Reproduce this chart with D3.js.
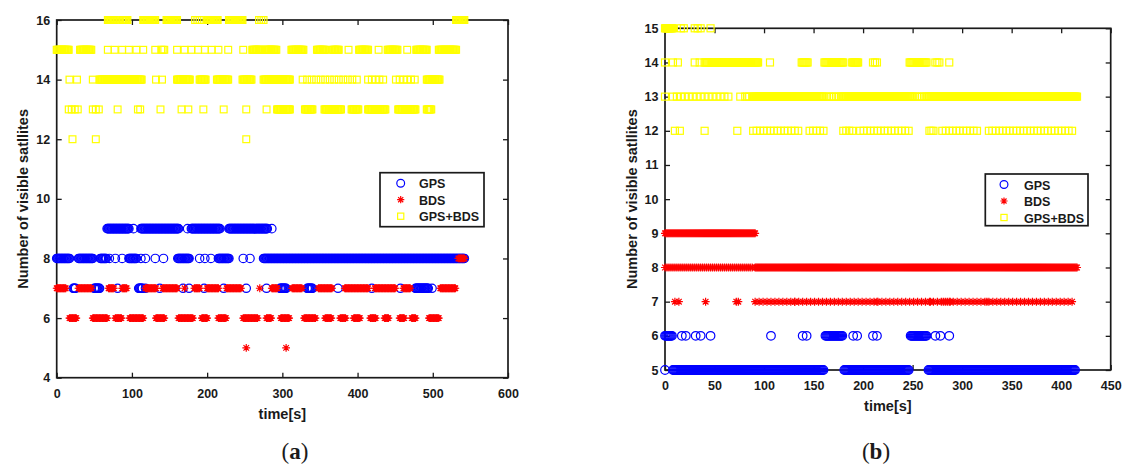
<!DOCTYPE html>
<html>
<head>
<meta charset="utf-8">
<script src="https://cdn.jsdelivr.net/npm/d3@7"></script>
<style>
body { margin: 0; background: #fff; }
svg text { font-family: "Liberation Sans", Arial, sans-serif; font-weight: bold; fill: #1a1a1a; }
</style>
</head>
<body>
<svg id="chart" width="1126" height="466"></svg>
<script>
// Each run: [t] one epoch, [t0, t1] every second, [t0, t1, step] sparser epochs
// ---- panel (a) ----
const aGps = [
    { v: 9, runs: [[67, 96], [102], [112, 162], [174], [179, 217], [229, 280], [286]] },
    { v: 8, runs: [[0, 17], [29, 48], [58, 66], [70], [78], [87], [96, 106], [112], [118], [131], [142],
                   [161, 176], [190], [197], [205], [215, 229], [248], [257], [275, 542]] },
    { v: 7, runs: [[22, 25], [50, 57], [81], [109, 114], [118], [137], [168], [176], [196], [222], [252],
                   [279], [297, 305], [333, 340], [374], [419], [457], [477, 494], [499]] }
];
const aBds = [
    { v: 8, runs: [[534, 542]] },
    { v: 7, runs: [[0, 12], [29, 46], [69, 76], [87, 93], [118, 132], [141, 160], [170], [183, 190], [200, 215],
                   [226, 245], [270], [286, 293], [313, 326], [348, 366], [383, 414], [423, 450], [461, 470], [510, 530]] },
    { v: 6, runs: [[17, 26], [48, 67], [78, 86], [97, 115], [132, 143], [162, 181], [193, 200], [215, 225],
                   [248, 267], [279, 285], [298, 309], [329, 344], [357, 365], [377, 384], [395, 403], [417, 424],
                   [436, 441], [456, 462], [472, 477], [495, 508]] },
    { v: 5, runs: [[252], [305]] }
];
const aSum = [
    { v: 16, runs: [[68, 77], [87, 94], [115, 131], [146, 160], [184, 190, 3], [200, 214], [229, 247], [269, 275, 3], [531, 542]] },
    { v: 15, runs: [[0, 16], [31, 46], [68], [77], [87], [96], [106], [115], [131], [139, 144, 2], [160], [170], [179],
                    [188], [197], [206], [215], [228], [248], [260, 272], [277, 292], [312, 328], [346, 357], [367, 375],
                    [388], [402, 414], [428], [440, 453], [466], [478, 492], [508, 531]] },
    { v: 14, runs: [[17], [27], [48], [57, 113], [132], [140], [160, 177], [190, 198], [213, 228], [247, 259],
                    [275, 310], [327, 403, 6], [414, 438, 5], [451, 479, 5], [492, 509]] },
    { v: 13, runs: [[16, 29, 4], [48, 58, 4], [81], [108, 113, 3], [138], [166], [175], [195], [222], [252], [279],
                    [293, 310], [330, 340], [356, 378], [392, 401], [414, 437], [454, 477], [492, 498]] },
    { v: 12, runs: [[21], [52], [252]] }
];
const aXTicks = [0, 100, 200, 300, 400, 500, 600];
const aYTicks = [4, 6, 8, 10, 12, 14, 16];

// ---- panel (b) ----
const bGps = [
    { v: 6, runs: [[0, 7], [17], [21], [31], [36], [46], [107], [139], [143], [162, 179], [190], [194], [210], [214],
                   [248, 264], [273], [278], [287]] },
    { v: 5, runs: [[0], [8, 160], [181, 246], [266, 414]] }
];
const bBds = [
    { v: 9, runs: [[0, 91]] },
    { v: 8, runs: [[0, 89, 2], [91, 416]] },
    { v: 7, runs: [[10], [14], [41], [72], [74], [91, 412, 4], [131], [214], [268], [281], [285], [288], [325]] }
];
const bSum = [
    { v: 15, runs: [[0, 8], [16, 19, 3], [30, 36, 3], [46]] },
    { v: 14, runs: [[0], [8], [13], [30], [35], [40, 94], [106], [138, 144], [161, 180], [189, 195], [210, 214, 2],
                    [247, 264], [273, 278, 2], [287]] },
    { v: 13, runs: [[0], [8, 64, 4], [76], [81, 86, 2], [89, 160], [163, 177, 2.5], [178, 250], [252, 262, 2.5], [264, 416]] },
    { v: 12, runs: [[10], [15], [40], [73], [89, 137, 3.5], [146, 160, 3.5], [180, 189, 3], [197, 247, 3.5],
                    [267, 271, 2], [280, 318, 3.5], [327, 412, 3.5]] }
];
const bXTicks = [0, 50, 100, 150, 200, 250, 300, 350, 400, 450];
const bYTicks = [5, 6, 7, 8, 9, 10, 11, 12, 13, 14, 15];

const legendNames = ["GPS", "BDS", "GPS+BDS"];

const panels = [
    { gps: aGps, bds: aBds, sum: aSum, xTicks: aXTicks, yTicks: aYTicks, xDomain: [0, 600], yDomain: [4, 16],
      left: 56.7, right: 508, top: 20, bottom: 377.7, xPad: 11.4, titleY: 419, yLabelX: 28,
      size: 3.4, legend: { x: 380, y: 172.7, w: 104, h: 54, mx: 400.7, tx: 419 }, caption: "a", capX: 295 },
    { gps: bGps, bds: bBds, sum: bSum, xTicks: bXTicks, yTicks: bYTicks, xDomain: [0, 450], yDomain: [5, 15],
      left: 665, right: 1110.7, top: 28.3, bottom: 370, xPad: 11.1, titleY: 411, yLabelX: 637,
      size: 3.5, legend: { x: 985.3, y: 174, w: 102.7, h: 51.7, mx: 1004, tx: 1024 }, caption: "b", capX: 876 }
];

const svg = d3.select("#chart");

function expand(runs) {
    const out = [];
    runs.forEach(r => {
        if (r.length === 1) { out.push(r[0]); return; }
        const step = r[2] || 1;
        for (let t = r[0]; t <= r[1] + 1e-9; t += step) out.push(t);
    });
    return out;
}

function starPath(r) {
    const a = r * 0.707;
    return `M${-r},0H${r}M0,${-r}V${r}M${-a},${-a}L${a},${a}M${-a},${a}L${a},${-a}`;
}

// draw one marker at (cx, cy)
function marker(g, kind, cx, cy, s) {
    if (kind === "gps") {
        g.append("circle").attr("cx", cx).attr("cy", cy).attr("r", s + 0.8)
            .attr("fill", "none").attr("stroke", "#0000ff").attr("stroke-width", 1.2);
    } else if (kind === "bds") {
        g.append("path").attr("transform", `translate(${cx},${cy})`).attr("d", starPath(s + 0.5))
            .attr("fill", "none").attr("stroke", "#ff0000").attr("stroke-width", 1.2);
    } else {
        g.append("rect").attr("x", cx - s).attr("y", cy - s).attr("width", 2 * s).attr("height", 2 * s)
            .attr("fill", "none").attr("stroke", "#ffff00").attr("stroke-width", 1.2);
    }
}

function drawPanel(p) {
    const x = d3.scaleLinear().domain(p.xDomain).range([p.left, p.right]);
    const y = d3.scaleLinear().domain(p.yDomain).range([p.bottom, p.top]);
    const g = svg.append("g");

    // axes (MATLAB style box, ticks inward on all sides)
    const axes = [
        { ax: d3.axisBottom(x).tickValues(p.xTicks).tickSize(-5).tickPadding(p.xPad), tr: `translate(0,${p.bottom})` },
        { ax: d3.axisTop(x).tickValues(p.xTicks).tickSize(-5).tickFormat(""), tr: `translate(0,${p.top})` },
        { ax: d3.axisLeft(y).tickValues(p.yTicks).tickSize(-5).tickPadding(6.5), tr: `translate(${p.left},0)` },
        { ax: d3.axisRight(y).tickValues(p.yTicks).tickSize(-5).tickFormat(""), tr: `translate(${p.right},0)` }
    ];
    axes.forEach(a => {
        const ag = g.append("g").attr("transform", a.tr).call(a.ax);
        ag.select(".domain").remove();
        ag.selectAll(".tick line").attr("stroke", "#1a1a1a").attr("stroke-width", 1.3);
        ag.selectAll(".tick text").style("font-size", "12.5px").style("font-family", "'Liberation Sans', Arial, sans-serif")
            .style("font-weight", "bold").attr("fill", "#1a1a1a");
    });
    g.append("rect")
        .attr("x", p.left).attr("y", p.top)
        .attr("width", p.right - p.left).attr("height", p.bottom - p.top)
        .attr("fill", "none").attr("stroke", "#1a1a1a").attr("stroke-width", 1.7);

    // data: GPS first, then BDS, then GPS+BDS on top
    const dg = g.append("g");
    [["gps", p.gps], ["bds", p.bds], ["sum", p.sum]].forEach(([kind, series]) => {
        series.forEach(s => {
            expand(s.runs).forEach(t => marker(dg, kind, x(t), y(s.v), p.size));
        });
    });

    // axis titles
    g.append("text")
        .attr("x", (p.left + p.right) / 2).attr("y", p.titleY)
        .attr("text-anchor", "middle").style("font-size", "14.5px")
        .text("time[s]");
    g.append("text")
        .attr("transform", `translate(${p.yLabelX},${(p.top + p.bottom) / 2}) rotate(-90)`)
        .attr("text-anchor", "middle").style("font-size", "14.5px")
        .text("Number of visible satllites");

    // legend
    const L = p.legend;
    const lg = g.append("g");
    lg.append("rect").attr("x", L.x).attr("y", L.y).attr("width", L.w).attr("height", L.h)
        .attr("fill", "#fff").attr("stroke", "#1a1a1a").attr("stroke-width", 1.7);
    ["gps", "bds", "sum"].forEach((kind, i) => {
        const cy = L.y + 10.5 + i * 16.5;
        marker(lg, kind, L.mx, cy, 3.1);
        lg.append("text").attr("x", L.tx).attr("y", cy + 5).style("font-size", "12.5px").text(legendNames[i]);
    });

    // caption
    const cap = svg.append("text")
        .attr("x", p.capX).attr("y", 458.5).attr("text-anchor", "middle")
        .style("font-family", "'Liberation Serif', 'DejaVu Serif', serif").style("font-size", "23px")
        .style("font-weight", "normal").attr("fill", "#000");
    cap.append("tspan").text("(");
    cap.append("tspan").style("font-weight", "bold").text(p.caption);
    cap.append("tspan").text(")");
}

panels.forEach(drawPanel);
</script>
</body>
</html>
